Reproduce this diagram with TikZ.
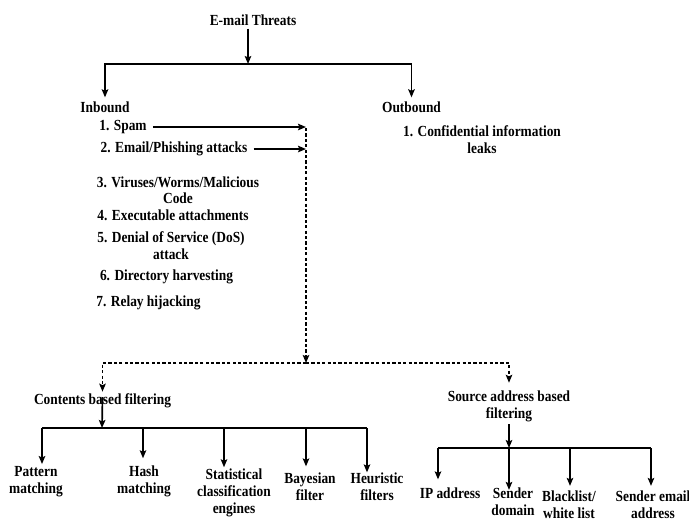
\documentclass[tikz,border=0pt]{standalone}
\usepackage{fontspec}
\setmainfont{Liberation Serif}[FakeStretch=0.87]
\usetikzlibrary{arrows.meta}
\begin{document}
\begin{tikzpicture}[x=1pt,y=-1pt,
  every node/.style={font=\bfseries\fontsize{15.4}{17}\selectfont, inner sep=2pt, align=center},
  ln/.style={line width=1.7pt},
  arr/.style={ln, -{Stealth[length=8pt,width=6.5pt,inset=1.5pt]}},
  dsh/.style={line width=1.7pt, dash pattern=on 3.2pt off 2.2pt},
  darr/.style={dsh, -{Stealth[length=8pt,width=6.5pt,inset=1.5pt]}}]
\useasboundingbox (0,0) rectangle (689,520);
% top
\node (title) at (253,20) {E-mail Threats};
\node (inb) at (105,107) {Inbound};
\node (outb) at (411.5,107) {Outbound};
\coordinate (h1) at (248,64);
\draw[arr] ([yshift=-1pt]title.south -| h1) -- (h1);
\draw[arr] (h1) -| ([yshift=2pt]inb.north);
\draw[arr] (h1) -| ([yshift=2pt]outb.north);
% inbound list
\node (spam) at (123,127) {1. Spam};
\node (phish) at (174,149) {2. Email/Phishing attacks};
\node[font=\bfseries\fontsize{15.4}{16}\selectfont] (vir) at (178,190.5) {3. Viruses/Worms/Malicious\\Code};
\node (exe) at (173,215) {4. Executable attachments};
\node (dos) at (171,245.5) {5. Denial of Service (DoS)\\attack};
\node (dir) at (166.5,277) {6. Directory harvesting};
\node (relay) at (148.5,303) {7. Relay hijacking};
\node (conf) at (482,139.5) {1. Confidential information\\leaks};
\coordinate (dtop) at (306,128);
\coordinate (jn) at (306,363);
\draw[arr] ([xshift=4pt]spam.east) -- (spam.east -| dtop);
\draw[arr] ([xshift=4pt]phish.east) -- (phish.east -| dtop);
\draw[darr] (dtop) -- (jn);
% filtering
\node (cont) at (102.5,401) {Contents based filtering};
\node (src) at (509,406.5) {Source address based\\filtering};
\draw[darr] (jn) -| (cont.north);
\draw[darr] (jn) -| ([yshift=6pt]src.north);
% contents children
\node (pat) at (36,481.5) {Pattern\\matching};
\node (hash) at (144,481) {Hash\\matching};
\node (stat) at (234,492.5) {Statistical\\classification\\engines};
\node (bay) at (310,486.5) {Bayesian\\filter};
\node (heur) at (377,486.5) {Heuristic\\filters};
\coordinate (cb) at (102,428);
\coordinate (cb1) at (42,428);
\coordinate (cb2) at (143,428);
\coordinate (cb3) at (224,428);
\coordinate (cb4) at (306,428);
\coordinate (cb5) at (367,428);
\draw[arr] ([yshift=4pt]cont.center) -- (cb);
\draw[ln] (cb1) -- (cb5);
\draw[arr] (cb1) -- (cb1 |- pat.north);
\draw[arr] (cb2) -- ([yshift=5pt]cb2 |- hash.north);
\draw[arr] (cb3) -- ([yshift=-1pt]cb3 |- stat.north);
\draw[arr] (cb4) -- ([yshift=4pt]cb4 |- bay.north);
\draw[arr] (cb5) -- ([yshift=-2pt]cb5 |- heur.north);
% source children
\node (ip) at (450,493) {IP address};
\node (sdom) at (513,502) {Sender\\domain};
\node (black) at (569,505) {Blacklist/\\white list};
\node (semail) at (653,505) {Sender email\\address};
\coordinate (sb) at (509,448);
\coordinate (sb1) at (438,448);
\coordinate (sb2) at (509,448);
\coordinate (sb3) at (570,448);
\coordinate (sb4) at (651,448);
\draw[arr] (src.south) -- (sb);
\draw[ln] (sb1) -- (sb4);
\draw[arr] (sb1) -- ([yshift=6pt]sb1 |- ip.north);
\draw[arr] (sb2) -- ([yshift=-4pt]sb2 |- sdom.north);
\draw[arr] (sb3) -- ([yshift=3pt]sb3 |- black.north);
\draw[arr] (sb4) -- ([yshift=3pt]sb4 |- semail.north);
\end{tikzpicture}
\end{document}
